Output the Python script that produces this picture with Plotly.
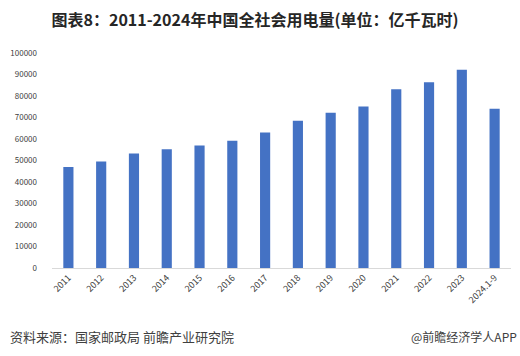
import plotly.graph_objects as go

categories = ["2011", "2012", "2013", "2014", "2015", "2016", "2017",
              "2018", "2019", "2020", "2021", "2022", "2023", "2024.1-9"]
values = [47001, 49591, 53223, 55233, 56933, 59198, 63077,
          68449, 72255, 75110, 83128, 86372, 92241, 74092]
y_ticks = [0, 10000, 20000, 30000, 40000, 50000, 60000, 70000, 80000, 90000, 100000]

title_text = "图表8：2011-2024年中国全社会用电量(单位：亿千瓦时)"
source_text = "资料来源：国家邮政局 前瞻产业研究院"
brand_text = "@前瞻经济学人APP"

font_family = "Noto Sans CJK SC, Microsoft YaHei, sans-serif"

fig = go.Figure(go.Bar(
    x=categories, y=values,
    marker=dict(color="#4472C4", line=dict(width=0)),
))

fig.update_layout(
    width=520, height=356,
    margin=dict(l=52, r=9, t=53, b=88, autoexpand=False),
    paper_bgcolor="white", plot_bgcolor="white",
    bargap=0.69,
    showlegend=False,
    font=dict(family=font_family, color="#404040"),
    title=dict(text="<b>" + title_text + "</b>", x=255 / 520, xanchor="center",
               y=1 - 20 / 356, yanchor="middle",
               font=dict(size=16, color="#262626", family=font_family)),
    xaxis=dict(type="category", tickangle=-45, tickfont=dict(size=9, color="#404040"),
               showline=True, linecolor="#d9d9d9", linewidth=1, automargin=False,
               ticks="", showgrid=False, zeroline=False),
    yaxis=dict(range=[0, 100000], tickvals=y_ticks, ticktext=[str(v) for v in y_ticks],
               tickfont=dict(size=8, color="#404040"), showgrid=False, zeroline=False,
               showline=False, ticks="", ticklabelstandoff=14, automargin=False),
    annotations=[
        dict(text=source_text, xref="paper", yref="paper",
             x=-44 / 459, y=-(336 - 268) / 215, xanchor="left", yanchor="middle",
             showarrow=False, font=dict(size=13, color="#404040", family=font_family)),
        dict(text=brand_text, xref="paper", yref="paper",
             x=1 + 8 / 459, y=-(336 - 268) / 215, xanchor="right", yanchor="middle",
             showarrow=False, font=dict(size=12, color="#404040", family=font_family)),
    ],
)

fig.write_html("out.html", config={"displayModeBar": False},
               post_script="document.body.style.margin='0';")
